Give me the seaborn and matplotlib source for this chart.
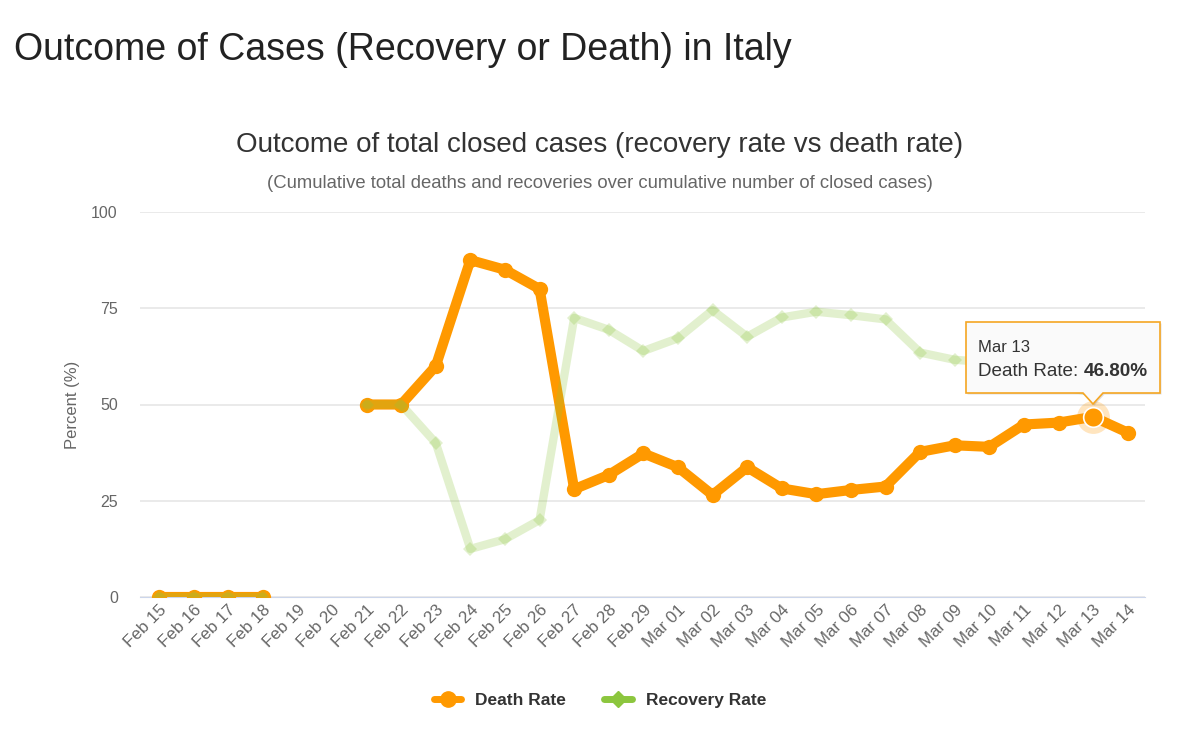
import numpy as np
import pandas as pd
import matplotlib
matplotlib.use("Agg")
import matplotlib.pyplot as plt
import seaborn as sns
from matplotlib.lines import Line2D
from matplotlib.patches import Polygon

# values (percent of closed cases)
dates = ["Feb 15", "Feb 16", "Feb 17", "Feb 18", "Feb 19", "Feb 20", "Feb 21",
         "Feb 22", "Feb 23", "Feb 24", "Feb 25", "Feb 26", "Feb 27", "Feb 28",
         "Feb 29", "Mar 01", "Mar 02", "Mar 03", "Mar 04", "Mar 05", "Mar 06",
         "Mar 07", "Mar 08", "Mar 09", "Mar 10", "Mar 11", "Mar 12", "Mar 13",
         "Mar 14"]
death_rate = [0, 0, 0, 0, None, None, 50, 50, 60, 87.5, 85, 80, 28, 31.7,
              37.3, 33.7, 26.5, 33.7, 28.2, 26.7, 27.8, 28.7, 37.7, 39.4,
              39.0, 44.8, 45.3, 46.8, 42.7]
recovery_rate = [0, 0, 0, 0, None, None, 50, 50, 40, 12.5, 15, 20, 72.5, 69.4,
                 63.9, 67.2, 74.5, 67.6, 72.6, 74.1, 73.2, 72.1, 63.5, 61.6,
                 61.0, 55.2, 54.7, 53.2, 57.3]
tooltip_day = "Mar 13"

ORANGE = "#ff9900"
GREEN = "#8cc63e"

df = pd.DataFrame({"day": np.arange(len(dates)), "date": dates,
                   "death": pd.to_numeric(pd.Series(death_rate), errors="coerce"),
                   "recovery": pd.to_numeric(pd.Series(recovery_rate), errors="coerce")})


def segments(col):
    # break the line where values are missing
    d = df[["day", col]].copy()
    d["segment"] = d[col].isna().cumsum()
    return d.dropna()


sns.set_style("white")
plt.rcParams["font.family"] = ["Liberation Sans", "DejaVu Sans"]

fig = plt.figure(figsize=(12, 7.5), dpi=100)
ax = fig.add_axes([140 / 1200, 1 - 597 / 750, 1005 / 1200, 385 / 750])

sns.lineplot(data=segments("death"), x="day", y="death", units="segment",
             estimator=None, color=ORANGE, lw=7.3, marker="o", markersize=11,
             markeredgewidth=0, ax=ax, zorder=3)
sns.lineplot(data=segments("recovery"), x="day", y="recovery", units="segment",
             estimator=None, color=GREEN, lw=6, alpha=0.25, marker="D",
             markersize=7, markeredgewidth=0, ax=ax, zorder=4)

# hovered point with halo
i = dates.index(tooltip_day)
v = df["death"][i]
ax.scatter([i], [v], s=560, color=ORANGE, alpha=0.25, lw=0, zorder=5)
ax.scatter([i], [v], s=200, color=ORANGE, edgecolor="white", lw=1.2, zorder=6)

ax.set_xlim(-0.55, 28.5)
ax.set_ylim(0, 100)
ax.set_yticks([0, 25, 50, 75, 100])
ax.set_xticks(df["day"])
ax.set_xticklabels(dates, rotation=45, ha="right", rotation_mode="anchor")
ax.tick_params(axis="x", length=0, pad=4, labelsize=12.2, labelcolor="#666666")
ax.tick_params(axis="y", length=0, pad=16, labelsize=11.5, labelcolor="#666666")
ax.grid(axis="y", color="#e6e6e6", lw=1.2)
ax.set_axisbelow(True)
sns.despine(ax=ax, left=True, top=True, right=True)
ax.spines["bottom"].set_color("#ccd6eb")
ax.set_xlabel("")
ax.set_ylabel("Percent (%)", fontsize=12, color="#666666", labelpad=8)

fig.text(14 / 1200, 1 - 50 / 750, "Outcome of Cases (Recovery or Death) in Italy",
         fontsize=27, color="#222222", va="center", ha="left")
fig.text(600 / 1200, 1 - 145 / 750,
         "Outcome of total closed cases (recovery rate vs death rate)",
         fontsize=20, color="#333333", va="center", ha="center")
fig.text(600 / 1200, 1 - 183 / 750,
         "(Cumulative total deaths and recoveries over cumulative number of closed cases)",
         fontsize=13.3, color="#666666", va="center", ha="center")

# tooltip box with pointer
W, H = 1200.0, 750.0
pts = [(966, 322), (1160, 322), (1160, 393), (1103, 393), (1093, 404),
       (1083, 393), (966, 393)]
shadow = Polygon([((x + 1.5) / W, 1 - (y + 1.5) / H) for x, y in pts],
                 closed=True, transform=fig.transFigure, facecolor="#000000",
                 alpha=0.12, edgecolor="none", zorder=10)
box = Polygon([(x / W, 1 - y / H) for x, y in pts], closed=True,
              transform=fig.transFigure, facecolor="#fafafa",
              edgecolor="#f5a623", lw=1.2, zorder=11)
fig.patches.extend([shadow, box])
fig.text(978 / W, 1 - 348 / H, tooltip_day, fontsize=12, color="#333333",
         va="center", ha="left", zorder=12)
t = fig.text(978 / W, 1 - 372 / H, "Death Rate: ", fontsize=13.6, color="#333333",
             va="center", ha="left", zorder=12)
fig.canvas.draw()
bb = t.get_window_extent()
fig.text(bb.x1 / W, 1 - 372 / H, f"{v:.2f}%", fontsize=13.6, color="#333333",
         fontweight="bold", va="center", ha="left", zorder=12)

handles = [Line2D([0], [0], color=ORANGE, lw=5, marker="o", markersize=11),
           Line2D([0], [0], color=GREEN, lw=5, marker="D", markersize=8)]
fig.legend(handles, ["Death Rate", "Recovery Rate"], loc="center",
           bbox_to_anchor=(600 / W, 1 - 700 / H), ncol=2, frameon=False,
           prop={"weight": "bold", "size": 12.5}, handlelength=1.6,
           columnspacing=2.2, labelcolor="#333333")

fig.savefig("out.png", dpi=100)
